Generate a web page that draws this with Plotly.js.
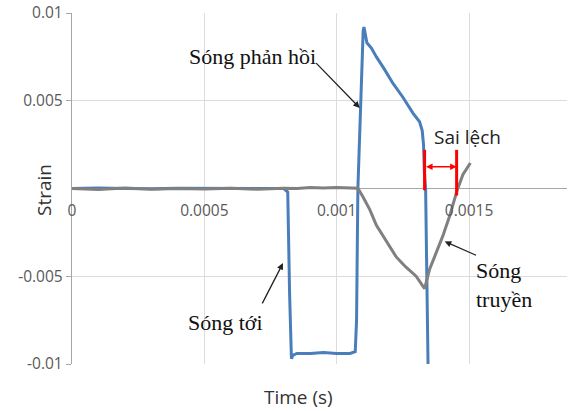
<!DOCTYPE html>
<html>
<head>
<meta charset="utf-8">
<script src="https://cdn.plot.ly/plotly-3.0.1.min.js"></script>
<style>html,body{margin:0;padding:0;background:#fff}#chart{width:573px;height:411px}</style>
</head>
<body>
<div id="chart"></div>
<script>
// Blue: incident (Sóng tới) + reflected (Sóng phản hồi) wave
const timeBlue = [0, 0.0001, 0.0002, 0.0003, 0.0004, 0.0005, 0.0006, 0.0007, 0.0008, 0.000815, 0.000822, 0.000829, 0.000835, 0.00085, 0.0009, 0.00095, 0.001, 0.00105, 0.00107, 0.001075, 0.00108, 0.00109, 0.0011, 0.001103, 0.001108, 0.001114, 0.001131, 0.00115, 0.00118, 0.001212, 0.00125, 0.001288, 0.001313, 0.001323, 0.001328, 0.001331, 0.001336, 0.001345];
const strainBlue = [0, 0.00003, 0, -0.00002, 0.00002, 0, 0.00001, 0, 0, -0.0002, -0.006, -0.0097, -0.0095, -0.0094, -0.0094, -0.00935, -0.0094, -0.0094, -0.0093, -0.0075, 0, 0.0046, 0.0090, 0.0092, 0.0088, 0.0083, 0.0080, 0.0075, 0.0068, 0.0060, 0.0052, 0.0043, 0.0038, 0.0033, 0.0025, 0.0010, -0.0001, -0.0100];
// Gray: transmitted wave (Sóng truyền)
const timeGray = [0, 0.0001, 0.0002, 0.0003, 0.0004, 0.0005, 0.0006, 0.0007, 0.0008, 0.00085, 0.0009, 0.00095, 0.001, 0.00105, 0.00108, 0.0011, 0.001125, 0.00115, 0.001175, 0.0012, 0.001225, 0.00125, 0.001263, 0.0013, 0.001332, 0.001351, 0.001376, 0.001401, 0.001426, 0.001455, 0.001477, 0.001505];
const strainGray = [0, -0.00005, 0.00003, -0.00004, 0, -0.00003, 0.00002, -0.00004, 0.00002, 0, 0.00005, 0.00003, 0.00006, 0.00005, 0.00002, -0.0005, -0.0012, -0.0021, -0.0027, -0.0033, -0.0039, -0.0043, -0.0045, -0.0050, -0.0057, -0.0046, -0.0037, -0.0027, -0.0016, -0.0001, 0.0008, 0.00145];
// Axis ticks
const xTickVals = [0, 0.0005, 0.001, 0.0015];
const xTickText = ['0', '0.0005', '0.001', '0.0015'];
const yTickVals = [-0.01, -0.005, 0.005, 0.01];
const yTickText = ['-0.01', '-0.005', '0.005', '0.01'];
// "Sai lệch" marker: time of reflected-wave drop and of transmitted-wave zero crossing
const saiLechT = [0.001332, 0.001453];

const serif = {family: 'Liberation Serif, Times New Roman, serif', size: 22, color: '#111'};
const sans = 'Open Sans, Liberation Sans, sans-serif';

const traces = [
  {x: timeBlue, y: strainBlue, mode: 'lines', line: {color: '#4a7ebb', width: 3}, hoverinfo: 'none'},
  {x: timeGray, y: strainGray, mode: 'lines', line: {color: '#808080', width: 3}, hoverinfo: 'none'}
];

const layout = {
  width: 573, height: 411,
  margin: {l: 72, r: 6, t: 13, b: 47},
  paper_bgcolor: '#fff', plot_bgcolor: '#fff',
  showlegend: false,
  xaxis: {
    range: [0, 0.00187], tickvals: xTickVals, ticktext: xTickText,
    showgrid: true, gridcolor: '#dcdcdc', gridwidth: 1, zeroline: false,
    anchor: 'free', position: 0.5, showline: false,
    ticks: 'outside', ticklen: 8, tickcolor: 'rgba(0,0,0,0)',
    tickfont: {family: sans, size: 15.5, color: '#595959'}
  },
  yaxis: {
    range: [-0.01, 0.01], tickvals: yTickVals, ticktext: yTickText,
    showgrid: true, gridcolor: '#dcdcdc', gridwidth: 1,
    zeroline: true, zerolinecolor: '#a6a6a6', zerolinewidth: 1.5,
    showline: true, linecolor: '#a6a6a6', linewidth: 1.2,
    ticks: 'outside', ticklen: 5, tickcolor: '#a6a6a6',
    tickfont: {family: sans, size: 15.5, color: '#595959'}
  },
  shapes: [
    {type: 'line', xref: 'x', yref: 'y', x0: saiLechT[0], x1: saiLechT[0], y0: 0.0022, y1: -0.0001, line: {color: '#ff0000', width: 3}},
    {type: 'line', xref: 'x', yref: 'y', x0: saiLechT[1], x1: saiLechT[1], y0: 0.0022, y1: -0.0004, line: {color: '#ff0000', width: 3}}
  ],
  annotations: [
    {xref: 'paper', yref: 'paper', x: -0.057, y: 0.495, xanchor: 'center', yanchor: 'middle', text: 'Strain', textangle: -90, showarrow: false, font: {family: sans, size: 19, color: '#333'}},
    {xref: 'paper', yref: 'paper', x: 0.457, y: -0.093, xanchor: 'center', yanchor: 'middle', text: 'Time (s)', showarrow: false, font: {family: sans, size: 19, color: '#333'}},
    // text labels
    {xref: 'x', yref: 'y', x: 0.000681, y: 0.00752, text: 'Sóng phản hồi', showarrow: false, font: serif},
    {xref: 'x', yref: 'y', x: 0.000581, y: -0.00766, text: 'Sóng tới', showarrow: false, font: serif},
    {xref: 'x', yref: 'y', x: 0.001520, y: -0.00547, text: 'Sóng<br>truyền', align: 'left', xanchor: 'left', showarrow: false, font: serif},
    {xref: 'x', yref: 'y', x: 0.001494, y: 0.00295, text: 'Sai lệch', showarrow: false, font: {family: sans, size: 19, color: '#222'}},
    // arrows
    {xref: 'x', yref: 'y', axref: 'x', ayref: 'y', x: 0.001087, y: 0.00459, ax: 0.000917, ay: 0.00723, text: '', showarrow: true, arrowhead: 2, arrowsize: 1, arrowwidth: 1.3, arrowcolor: '#222'},
    {xref: 'x', yref: 'y', axref: 'x', ayref: 'y', x: 0.000797, y: -0.00425, ax: 0.000716, ay: -0.00663, text: '', showarrow: true, arrowhead: 2, arrowsize: 1, arrowwidth: 1.3, arrowcolor: '#222'},
    {xref: 'x', yref: 'y', axref: 'x', ayref: 'y', x: 0.001408, y: -0.00302, ax: 0.001532, ay: -0.00384, text: '', showarrow: true, arrowhead: 2, arrowsize: 1, arrowwidth: 1.3, arrowcolor: '#222'},
    {xref: 'x', yref: 'y', axref: 'x', ayref: 'y', x: saiLechT[1], y: 0.00124, ax: saiLechT[0], ay: 0.00124, text: '', showarrow: true, arrowhead: 2, startarrowhead: 2, arrowside: 'end+start', arrowsize: 1, arrowwidth: 1.3, arrowcolor: '#ff0000'}
  ]
};

Plotly.newPlot('chart', traces, layout, {staticPlot: true, displayModeBar: false});
</script>
</body>
</html>
